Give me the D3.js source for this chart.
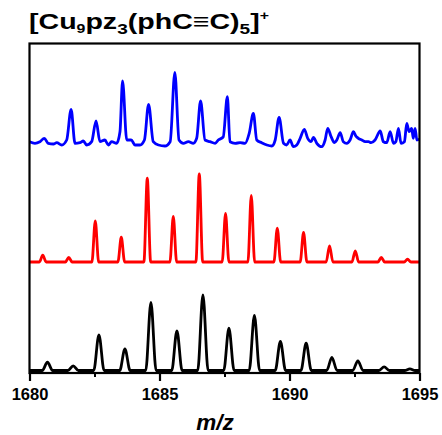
<!DOCTYPE html>
<html><head><meta charset="utf-8">
<script src="https://cdn.jsdelivr.net/npm/d3@7"></script>
<style>html,body{margin:0;padding:0;background:#fff;}</style>
</head><body><svg id="c" width="442" height="435"></svg>
<script>
// ---- data ----
const xTicks = [1680, 1685, 1690, 1695];
const xMinorTicks = [1682.5, 1687.5, 1692.5];

const blackMz  = [1680.69,1681.68,1682.67,1683.67,1684.67,1685.67,1686.67,1687.67,1688.65,1689.65,1690.64,1691.63,1692.63,1693.64,1694.63];
const blackInt = [8.3,4.7,35.7,21.7,68,39.7,75.7,42.3,55,29,27.3,13,9.7,3.7,1.7];

const redMz  = [1680.51,1681.51,1682.53,1683.53,1684.53,1685.53,1686.53,1687.54,1688.53,1689.53,1690.54,1691.54,1692.53,1693.53,1694.54];
const redInt = [6.8,4.5,41.2,24.8,83.8,45.5,88.2,48.5,66.5,33.8,29.5,16.2,11.2,4.5,2.8];

const blueMz = [1680.00,1680.21,1680.40,1680.57,1680.72,1680.92,1681.05,1681.24,1681.43,1681.60,1681.75,1681.94,1682.07,1682.20,1682.39,1682.56,1682.71,1682.90,1683.03,1683.16,1683.35,1683.48,1683.58,1683.74,1683.91,1684.06,1684.25,1684.42,1684.58,1684.76,1684.96,1685.21,1685.41,1685.59,1685.75,1685.92,1686.11,1686.30,1686.43,1686.58,1686.75,1686.94,1687.14,1687.26,1687.45,1687.61,1687.71,1687.91,1688.10,1688.29,1688.45,1688.61,1688.74,1688.93,1689.13,1689.32,1689.45,1689.60,1689.77,1689.89,1690.02,1690.15,1690.28,1690.41,1690.57,1690.70,1690.83,1690.92,1691.05,1691.24,1691.37,1691.47,1691.60,1691.73,1691.82,1691.95,1692.07,1692.20,1692.33,1692.46,1692.55,1692.65,1692.78,1692.91,1693.04,1693.14,1693.29,1693.49,1693.61,1693.74,1693.87,1694.00,1694.09,1694.19,1694.29,1694.42,1694.51,1694.60,1694.70,1694.76,1694.83,1694.90,1695.00];
const blueInt = [1.3,-0.3,1.3,4.7,-0.3,-1,0.3,-2,3,33.7,-0.3,0.3,2,-2,1.3,22,1.3,3,-2,1.3,-0.3,11.3,62,3,3,-2,-2,3,38.7,1.3,-2,-3,1.3,70.7,3,-0.3,1.3,-0.3,4.7,42,3,1.3,-0.3,3,6,46.3,1.3,-0.3,0.3,-0.3,9.7,29.7,3,0.3,-2,-3,3,25.7,-0.3,-2,3,-3.7,-2,4.7,13.7,4.7,1.3,5.7,-0.3,-3.7,3,14.7,6.3,0.3,3,10.3,1.3,-0.3,3,11.3,7,4.7,3,1.3,1.3,0.3,3,12,1.3,0.3,11.3,-0.3,1.3,14.7,-0.3,1.3,19.7,11.3,14.7,4.7,14.7,3,3.7];

const titleParts = [["[Cu","n"],["9","sub9"],["pz","n"],["3","sub"],["(phC\u2261C)","n"],["5","sub"],["]","n"],["+","sup"]];
const xLabel = "m/z";

// ---- layout ----
const svg = d3.select("#c");
const L = 29.5, R = 419.5, T = 43.5, B = 373;
const x = d3.scaleLinear().domain([1680, 1695]).range([L, R]);
const y = d3.scaleLinear().domain([0, 329.5]).range([B, T]);
const FONT = "Liberation Sans, Arial, Helvetica, sans-serif";

svg.append("defs").append("clipPath").attr("id","clip")
  .append("rect").attr("x", L).attr("y", T).attr("width", R - L).attr("height", B - T);

function peakLine(mz, inten, w) {
  const pts = [[1680, 0]];
  mz.forEach((c, i) => { pts.push([c - w, 0], [c, inten[i]], [c + w, 0]); });
  pts.push([1695, 0]);
  return pts;
}

const traces = [
  {pts: peakLine(blackMz, blackInt, 0.2), off: 2.5, color: "#000000"},
  {pts: peakLine(redMz, redInt, 0.13), off: 111, color: "#ff0000"},
  {pts: blueMz.map((m, i) => [m, blueInt[i]]), off: 230, color: "#0000ff"}
];

const g = svg.append("g").attr("clip-path", "url(#clip)");
traces.forEach(t => {
  const line = d3.line().x(d => x(d[0])).y(d => y(d[1] + t.off)).curve(d3.curveMonotoneX);
  g.append("path").datum(t.pts).attr("d", line)
    .attr("fill", "none").attr("stroke", t.color).attr("stroke-width", 2.8)
    .attr("stroke-linejoin", "round");
});

// frame
svg.append("rect").attr("x", L).attr("y", T).attr("width", R - L).attr("height", B - T)
  .attr("fill", "none").attr("stroke", "#000").attr("stroke-width", 2.2);

// axes
const ax = svg.append("g").attr("transform", `translate(0,${B})`)
  .call(d3.axisBottom(x).tickValues(xTicks).tickSize(8).tickFormat(d3.format("d")));
ax.select(".domain").remove();
ax.selectAll(".tick line").attr("stroke", "#000").attr("stroke-width", 2.2);
ax.selectAll(".tick text").attr("y", 27).attr("dy", 0)
  .attr("font-family", FONT).attr("font-weight", "bold")
  .attr("font-size", 16.5).attr("fill", "#000");

const axm = svg.append("g").attr("transform", `translate(0,${B})`)
  .call(d3.axisBottom(x).tickValues(xMinorTicks).tickSize(4).tickFormat(""));
axm.select(".domain").remove();
axm.selectAll(".tick line").attr("stroke", "#000").attr("stroke-width", 2);

// x label
svg.append("text").attr("x", 215).attr("y", 430).attr("text-anchor", "middle")
  .attr("font-family", FONT).attr("font-weight", "bold")
  .attr("font-style", "italic").attr("font-size", 22.5).text(xLabel);

// title
const tt = svg.append("text").attr("transform", "translate(29,28.5) scale(1.27,1)")
  .attr("font-family", FONT).attr("font-weight", "bold").attr("fill", "#000");
let cur = 0;
titleParts.forEach(([s, k]) => {
  let size = 22.5, shift = 0;
  if (k === "sub9") { size = 12.5; shift = 4; }
  else if (k === "sub") { size = 15; shift = 5; }
  else if (k === "sup") { size = 12.5; shift = -9; }
  tt.append("tspan").attr("font-size", size).attr("dy", shift - cur).text(s);
  cur = shift;
});
</script>
</body></html>
